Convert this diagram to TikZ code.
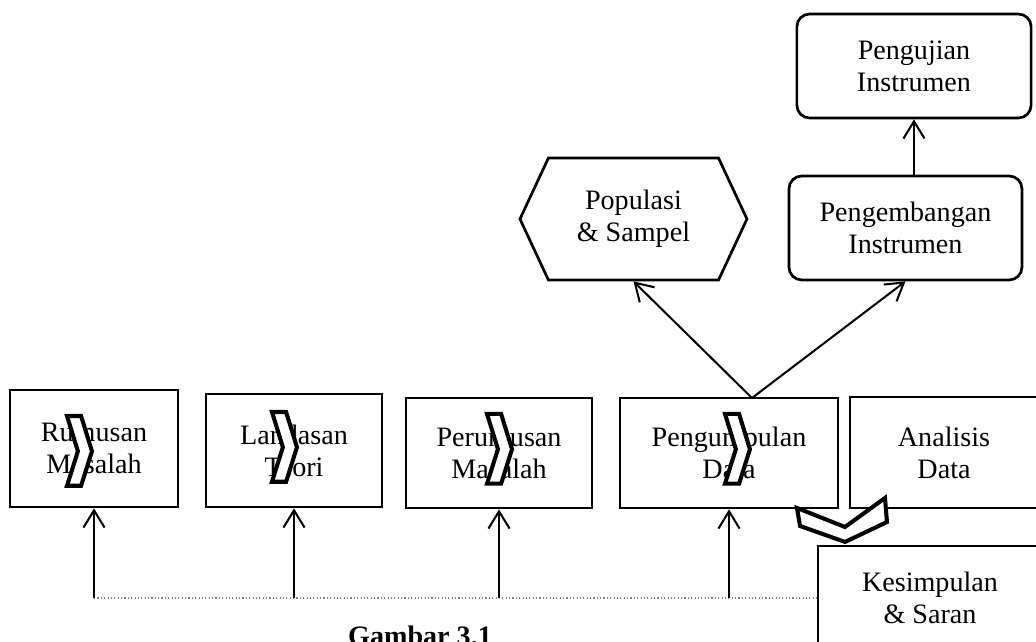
\documentclass[tikz,border=0pt]{standalone}
\usepackage{fontspec}
\setmainfont{Liberation Serif}
\usetikzlibrary{arrows.meta,shapes.symbols}
\tikzset{
  box/.style={draw, line width=1.2pt, align=center, font=\fontsize{12.5}{14.2}\selectfont},
  rbox/.style={box, rounded corners=0.2cm},
  hexa/.style={box, signal, signal to=west and east, signal pointer angle=130},
  chev/.style={draw, line width=1.8pt, fill=white, line join=miter},
  link/.style={line width=0.9pt, ->},
}
\newcommand{\chevron}[1]{\draw [chev] #1 -- ++(0.22,0) -- ++(0.17,-0.55) -- ++(-0.17,-0.54) -- ++(-0.22,0) -- ++(0.17,0.54) -- cycle;}

\begin{document}
\begin{tikzpicture}[>={Straight Barb[length=2.7mm,width=3.3mm]}]
\useasboundingbox (0,0) rectangle (16.1875,10.03125);
\node [box, minimum width=2.625cm, minimum height=1.828cm] (rm) at (1.469,3.023) {Rumusan\\Masalah};
\node [box, minimum width=2.75cm, minimum height=1.766cm] (lt) at (4.594,2.992) {Landasan\\Teori};
\node [box, minimum width=2.906cm, minimum height=1.719cm] (pm) at (7.797,2.953) {Perumusan\\Masalah};
\node [box, minimum width=3.406cm, minimum height=1.719cm] (pd) at (11.391,2.953) {Pengumpulan\\Data};
\node [box, minimum width=2.94cm, minimum height=1.734cm] (ad) at (14.75,2.961) {Analisis\\Data};
\node [box, minimum width=3.5cm, minimum height=1.625cm] (ks) at (14.531,0.6875) {Kesimpulan\\\& Saran};

\node [hexa, minimum width=3.547cm, minimum height=1.906cm] (po) at (9.898,6.609) {Populasi\\\& Sampel};
\node [rbox, minimum width=3.64cm, minimum height=1.625cm] (pe) at (14.148,6.469) {Pengembangan\\Instrumen};
\node [rbox, minimum width=3.66cm, minimum height=1.625cm] (pu) at (14.281,9.0) {Pengujian\\Instrumen};

% alur ke atas
\coordinate (split) at (11.75,3.8125);
\draw [link] (split) -- (po.south);
\draw [link] (split) -- (pe.south);
\draw [link] (pu.south |- pe.north) -- (pu.south);

% garis bawah
\draw [densely dotted, line width=0.5pt, gray] (rm.south |- ks.west) -- (ks.west);
\draw [link] (rm.south |- ks.west) -- (rm.south);
\draw [link] (lt.south |- ks.west) -- (lt.south);
\draw [link] (pm.south |- ks.west) -- (pm.south);
\draw [link] (pd.south |- ks.west) -- (pd.south);

\chevron{(1.047,3.531)}
\chevron{(4.25,3.594)}
\chevron{(7.61,3.563)}
\chevron{(11.328,3.563)}
\draw [chev] (12.453,2.094) -- (13.203,1.797) -- (13.828,2.25) -- (13.859,1.875) -- (13.203,1.563) -- (12.5,1.813) -- cycle;

\node [anchor=base, font=\fontsize{12.5}{14.2}\selectfont\bfseries] (cap) at (6.5625,-0.0625) {Gambar 3.1};
\end{tikzpicture}
\end{document}
